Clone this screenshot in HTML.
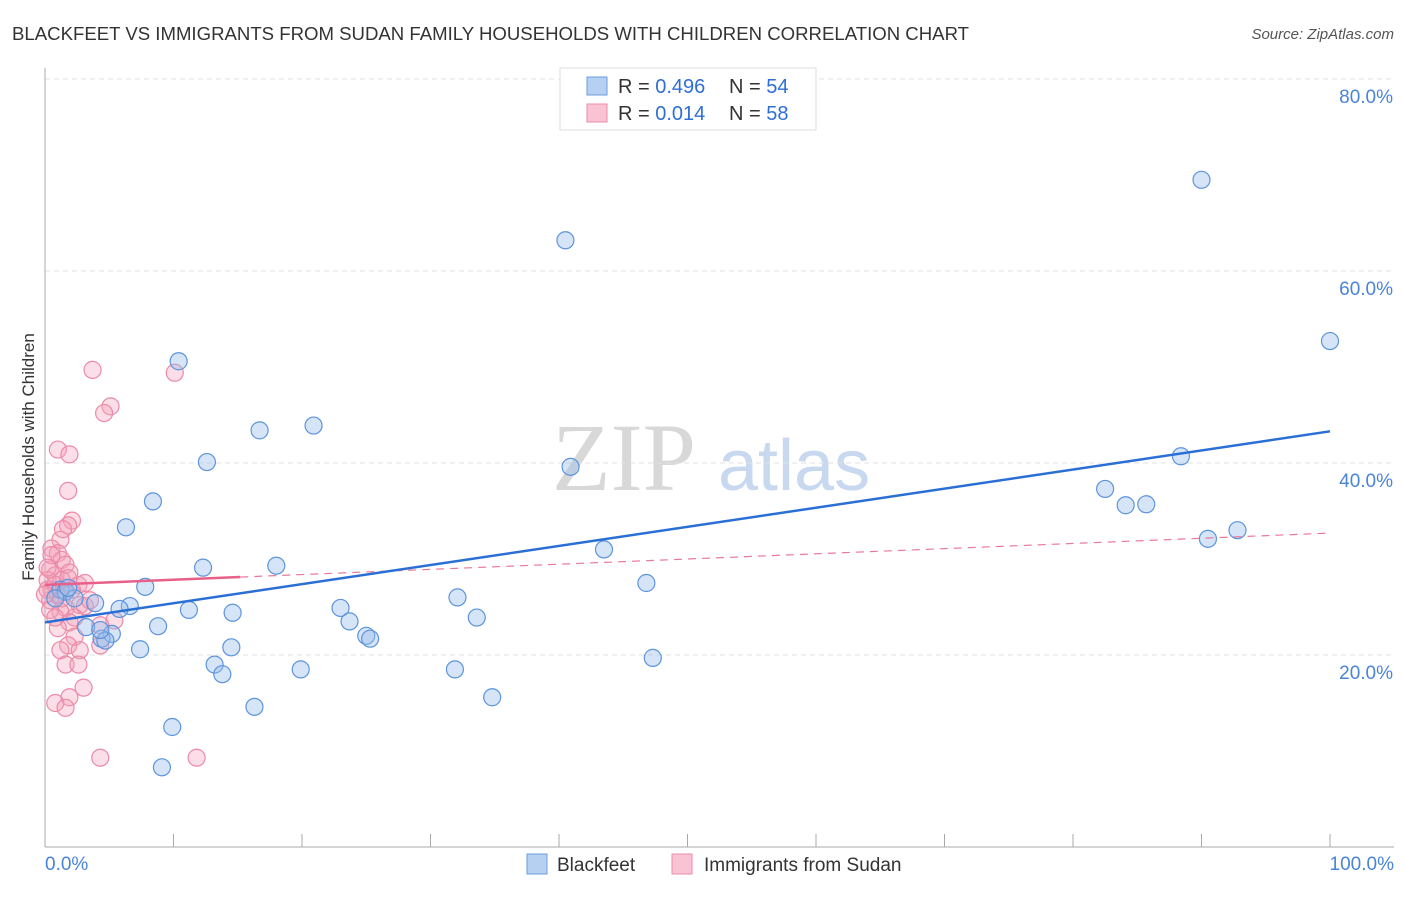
<!DOCTYPE html>
<html><head><meta charset="utf-8"><style>
body{margin:0;background:#fff;font-family:"Liberation Sans",sans-serif}
svg text{font-family:"Liberation Sans",sans-serif}
</style></head><body>
<svg id="chart" width="1406" height="892" xmlns="http://www.w3.org/2000/svg">
<text x="12" y="40" font-size="18.6" fill="#333">BLACKFEET VS IMMIGRANTS FROM SUDAN FAMILY HOUSEHOLDS WITH CHILDREN CORRELATION CHART</text>
<text x="1394" y="39" font-size="15" fill="#555" text-anchor="end" font-style="italic">Source: ZipAtlas.com</text>
<text x="552" y="490" font-size="96" fill="#d8d8d8" font-family="Liberation Serif" style="font-family:'Liberation Serif',serif">ZIP</text>
<text x="718" y="490" font-size="72" fill="#c7d8ef">atlas</text>
<g id="grid"></g><g id="axes"></g><g id="marks"></g>
<text transform="translate(34,457) rotate(-90)" font-size="17" fill="#333" text-anchor="middle">Family Households with Children</text>
<g>
<rect x="560" y="68" width="256" height="62" fill="#fff" stroke="#ddd"/>
<rect x="587" y="77" width="20" height="18" fill="#b6d0f2" stroke="#6a9ee0"/>
<rect x="587" y="104" width="20" height="18" fill="#f9c3d3" stroke="#ea8eaa"/>
<text x="618" y="93" font-size="20" fill="#333">R = <tspan fill="#2e6fd6">0.496</tspan></text>
<text x="729" y="93" font-size="20" fill="#333">N = <tspan fill="#2e6fd6">54</tspan></text>
<text x="618" y="120" font-size="20" fill="#333">R = <tspan fill="#2e6fd6">0.014</tspan></text>
<text x="729" y="120" font-size="20" fill="#333">N = <tspan fill="#2e6fd6">58</tspan></text>
</g>
<g>
<rect x="527" y="854" width="20" height="20" fill="#b6d0f2" stroke="#6a9ee0"/>
<text x="557" y="871" font-size="19" fill="#333">Blackfeet</text>
<rect x="672" y="854" width="20" height="20" fill="#f9c3d3" stroke="#ea8eaa"/>
<text x="704" y="871" font-size="19" fill="#333">Immigrants from Sudan</text>
</g>
</svg>
<script>
const yTicks=[20,40,60,80];
const xTickLabels=["0.0%","100.0%"];
const blueX=[10.4,40.5,90.0,100,16.7,20.9,12.6,40.9,8.4,6.3,82.5,84.1,85.7,88.4,90.5,92.8,43.5,12.3,18.0,7.8,46.8,3.9,6.6,5.8,32.1,11.2,14.6,23.0,23.7,33.6,3.2,5.2,8.8,4.4,4.7,25.0,25.3,7.4,14.5,13.2,13.8,19.9,31.9,47.3,34.8,16.3,9.9,9.1,1.2,1.6,2.3,0.8,1.8,4.3];
const blueY=[50.6,63.2,69.5,52.7,43.4,43.9,40.1,39.6,36.0,33.3,37.3,35.6,35.7,40.7,32.1,33.0,31.0,29.1,29.3,27.1,27.5,25.4,25.1,24.8,26.0,24.7,24.4,24.9,23.5,23.9,22.9,22.2,23.0,21.7,21.5,22.0,21.7,20.6,20.8,19.0,18.0,18.5,18.5,19.7,15.6,14.6,12.5,8.3,26.8,26.6,25.9,25.9,27.0,22.6];
const pinkX=[3.7,10.1,5.1,4.6,1.0,1.9,1.8,2.1,1.8,1.2,0.5,1.0,1.3,1.6,0.4,0.8,1.9,0.2,1.3,2.6,0.5,1.0,0.4,2.7,1.6,3.1,1.2,2.3,5.4,4.3,1.9,2.3,1.8,1.2,2.7,4.3,1.6,2.6,3.0,1.9,0.8,1.6,4.3,11.8,0.2,0.8,0,0.4,0.5,1.4,3.5,1.0,2.1,3.1,1.3,0.2,0.8,1.8];
const pinkY=[49.7,49.4,45.9,45.2,41.4,40.9,37.1,34.0,33.5,32.0,31.1,30.6,29.9,29.4,28.9,28.3,28.6,27.8,27.8,27.3,26.8,26.3,25.7,25.2,24.9,25.1,24.5,23.9,23.6,23.1,23.4,21.9,21.0,20.5,20.5,21.0,19.0,19.0,16.6,15.6,15.0,14.5,9.3,9.3,26.8,27.3,26.3,24.7,30.4,33.1,25.7,22.8,26.8,27.5,25.9,29.1,23.9,28.0];
const blueTrend=[23.4,43.3];
const pinkTrend=[27.3,32.7];
const pinkSolidEnd=15.2;
const NS="http://www.w3.org/2000/svg";
const X=v=>45+v*12.85, Y=v=>847-v*9.6;
function mk(tag,attrs,parent){const e=document.createElementNS(NS,tag);for(const k in attrs)e.setAttribute(k,attrs[k]);parent.appendChild(e);return e;}
const grid=document.getElementById('grid'),axes=document.getElementById('axes'),marks=document.getElementById('marks');
yTicks.forEach(t=>{
 const l=mk('line',{x1:45,x2:1394,y1:Y(t),y2:Y(t),stroke:'#e2e2e2','stroke-dasharray':'5,4'},grid);
 
 
 const tx=mk('text',{x:1393,y:Y(t)+24,'font-size':19,fill:'#4a84d8','text-anchor':'end'},axes);
 tx.textContent=t.toFixed(1)+'%';
 
 
});
const ax=mk('line',{x1:45,x2:45,y1:68,y2:847,stroke:'#aaa'},axes);


const bx=mk('line',{x1:45,x2:1394,y1:847,y2:847,stroke:'#aaa'},axes);


for(let i=0;i<=10;i++){const t=mk('line',{x1:X(i*10),x2:X(i*10),y1:834,y2:847,stroke:'#aaa'},axes);
 
 }
[[0,'start',45],[100,'end',1394]].forEach((d,i)=>{const t=mk('text',{x:d[2],y:870,'font-size':19,fill:'#4a84d8','text-anchor':d[1]},axes);t.textContent=xTickLabels[i];
 
 });
pinkX.forEach((x,i)=>{const c=mk('circle',{cx:X(x),cy:Y(pinkY[i]),r:8.5,fill:'rgba(244,160,186,0.35)',stroke:'#ec8aa8','stroke-width':1.2},marks);
 
 });
blueX.forEach((x,i)=>{const c=mk('circle',{cx:X(x),cy:Y(blueY[i]),r:8.5,fill:'rgba(150,188,236,0.4)',stroke:'#5d94dc','stroke-width':1.2},marks);
 
 });
const pAt=v=>pinkTrend[0]+(pinkTrend[1]-pinkTrend[0])*v/100;
const pd=mk('line',{x1:X(pinkSolidEnd),y1:Y(pAt(pinkSolidEnd)),x2:X(100),y2:Y(pinkTrend[1]),stroke:'#e87a9a','stroke-width':1.2,'stroke-dasharray':'8,6'},marks);


const ps=mk('line',{x1:X(0),y1:Y(pinkTrend[0]),x2:X(pinkSolidEnd),y2:Y(pAt(pinkSolidEnd)),stroke:'#e8608a','stroke-width':2.5},marks);


const bl=mk('line',{x1:X(0),y1:Y(blueTrend[0]),x2:X(100),y2:Y(blueTrend[1]),stroke:'#2a6fd6','stroke-width':2.5},marks);


</script>
</body></html>
